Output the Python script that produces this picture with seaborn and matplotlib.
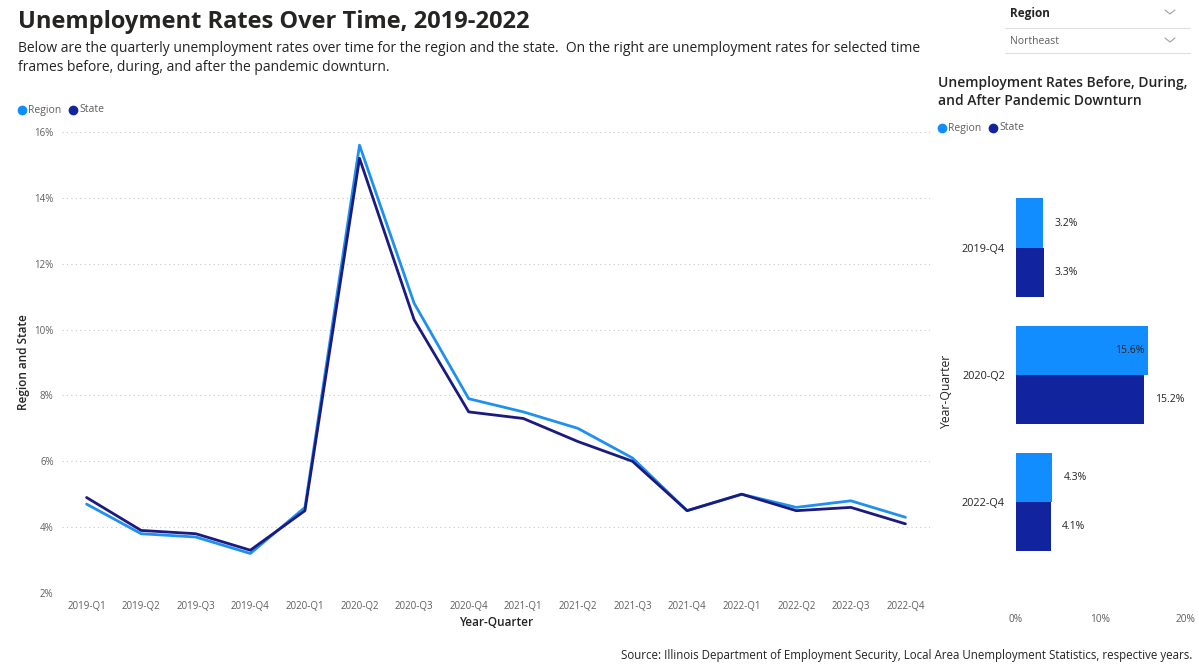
import pandas as pd
import matplotlib.pyplot as plt
import seaborn as sns
from matplotlib.lines import Line2D
from matplotlib.ticker import FuncFormatter

quarters = ["2019-Q1", "2019-Q2", "2019-Q3", "2019-Q4",
            "2020-Q1", "2020-Q2", "2020-Q3", "2020-Q4",
            "2021-Q1", "2021-Q2", "2021-Q3", "2021-Q4",
            "2022-Q1", "2022-Q2", "2022-Q3", "2022-Q4"]
region_rate = [4.7, 3.8, 3.7, 3.2, 4.6, 15.6, 10.8, 7.9, 7.5, 7.0, 6.1, 4.5, 5.0, 4.6, 4.8, 4.3]
state_rate = [4.9, 3.9, 3.8, 3.3, 4.5, 15.2, 10.3, 7.5, 7.3, 6.6, 6.0, 4.5, 5.0, 4.5, 4.6, 4.1]

snap_quarters = ["2019-Q4", "2020-Q2", "2022-Q4"]
snap_region = [3.2, 15.6, 4.3]
snap_state = [3.3, 15.2, 4.1]

series = ["Region", "State"]
colors = {"Region": "#118DFF", "State": "#12239E"}
line_colors = {"Region": "#1E90F0", "State": "#1A1A80"}

TXT = "#252423"
GREY = "#605E5C"

sns.set_theme(style="white")
plt.rcParams["font.family"] = ["Open Sans", "DejaVu Sans"]

lines_df = pd.DataFrame({
    "quarter": quarters * 2,
    "rate": region_rate + state_rate,
    "series": ["Region"] * len(quarters) + ["State"] * len(quarters),
})
bars_df = pd.DataFrame({
    "quarter": snap_quarters * 2,
    "rate": snap_region + snap_state,
    "series": ["Region"] * len(snap_quarters) + ["State"] * len(snap_quarters),
})

fig = plt.figure(figsize=(11.99, 6.65), dpi=100)
W, H = 1199, 665


def box(l, t, r, b):
    return [l / W, 1 - b / H, (r - l) / W, (b - t) / H]


# main line chart
ax = fig.add_axes(box(62, 132, 930, 593))
sns.lineplot(data=lines_df, x="quarter", y="rate", hue="series", palette=line_colors,
             linewidth=2.0, ax=ax, legend=False, sort=False)
ax.set_ylim(2, 16)
ax.set_xlim(-0.45, len(quarters) - 0.55)
ax.set_yticks([2, 4, 6, 8, 10, 12, 14, 16])
ax.yaxis.set_major_formatter(FuncFormatter(lambda v, p: f"{v:.0f}%"))
ax.grid(axis="y", color="#C8C6C4", linestyle=(0, (1, 3)), linewidth=0.8)
ax.grid(axis="x", visible=False)
for s in ax.spines.values():
    s.set_visible(False)
ax.tick_params(axis="both", labelsize=7, colors=GREY, length=0, pad=6)
ax.set_xlabel("Year-Quarter", fontsize=8.5, color=TXT, fontweight="semibold", labelpad=3)
ax.set_ylabel("Region and State", fontsize=8.5, color=TXT, fontweight="semibold")
ax.yaxis.set_label_coords(-0.037, 0.5)

# snapshot bar chart
bx = fig.add_axes(box(1016, 180, 1185, 603))
sns.barplot(data=bars_df, y="quarter", x="rate", hue="series", palette=colors,
            orient="h", width=0.77, ax=bx, legend=False, saturation=1, linewidth=0)
bx.set_xlim(0, 20)
bx.set_ylim(2.79, -0.53)
bx.set_xticks([0, 10, 20])
bx.xaxis.set_major_formatter(FuncFormatter(lambda v, p: f"{v:.0f}%"))
for s in bx.spines.values():
    s.set_visible(False)
bx.tick_params(axis="x", labelsize=7.3, colors=GREY, length=0, pad=8)
bx.tick_params(axis="y", labelsize=7.8, colors=TXT, length=0, pad=8)
bx.set_xlabel("")
bx.set_ylabel("Year-Quarter", fontsize=8.8, color=TXT)
bx.yaxis.set_label_coords(-0.37, 0.5)
for cont in bx.containers:
    for patch in cont:
        w = patch.get_width()
        yc = patch.get_y() + patch.get_height() / 2
        if w > 15.4:
            bx.text(w - 0.4, yc, f"{w:.1f}%", ha="right", va="center", fontsize=7.5, color=TXT)
        else:
            bx.text(w + 1.3, yc, f"{w:.1f}%", ha="left", va="center", fontsize=7.5, color=TXT)

# titles and texts
fig.text(18 / W, 1 - 22 / H, "Unemployment Rates Over Time, 2019-2022", fontsize=17,
         fontweight="bold", color=TXT, va="center")
fig.text(18 / W, 1 - 58 / H,
         "Below are the quarterly unemployment rates over time for the region and the state.  "
         "On the right are unemployment rates for selected time\nframes before, during, and after the pandemic downturn.",
         fontsize=10, color=TXT, va="center", linespacing=1.4)
fig.text(938 / W, 1 - 92 / H, "Unemployment Rates Before, During,\nand After Pandemic Downturn",
         fontsize=10, color=TXT, fontweight="semibold", va="center", linespacing=1.35)
fig.text(1192 / W, 1 - 656 / H,
         "Source: Illinois Department of Employment Security, Local Area Unemployment Statistics, respective years.",
         fontsize=8.3, color=TXT, ha="right", va="center")


def legend(x, y):
    for name in series:
        fig.add_artist(Line2D([x / W], [1 - y / H], marker="o", markersize=6, color=colors[name],
                              linestyle="none"))
        fig.text((x + 6) / W, 1 - y / H, name, fontsize=7.5, color=GREY, va="center")
        x += 51


legend(22, 110)
legend(942, 128)

# slicer
fig.text(1010 / W, 1 - 13 / H, "Region", fontsize=8.5, fontweight="bold", color=TXT, va="center")
fig.text(1010 / W, 1 - 41 / H, "Northeast", fontsize=7.5, color=GREY, va="center")
for cy in (12, 40):
    fig.add_artist(Line2D([1165 / W, 1170 / W, 1175 / W], [1 - (cy - 2) / H, 1 - (cy + 2) / H, 1 - (cy - 2) / H],
                          color="#A19F9D", linewidth=0.8))
fig.add_artist(Line2D([1005 / W, 1190 / W], [1 - 28 / H, 1 - 28 / H], color="#E1DFDD", linewidth=0.8))
fig.add_artist(Line2D([1005 / W, 1190 / W], [1 - 53 / H, 1 - 53 / H], color="#E1DFDD", linewidth=0.8))

fig.savefig("out.png", dpi=100, facecolor="white")
